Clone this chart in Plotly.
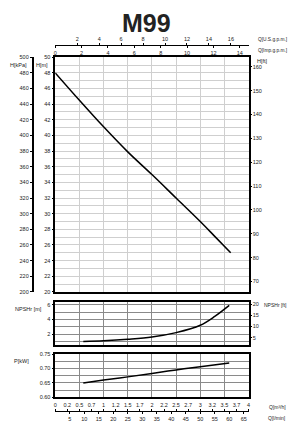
import plotly.graph_objects as go

W, H = 292, 429

# ---- data ----
q_h = [0, 0.5, 1.0, 1.5, 2.0, 2.5, 3.0, 3.3, 3.63]
head_m = [48.0, 44.5, 41.1, 37.9, 35.0, 32.0, 29.0, 27.1, 25.0]

q_npsh = [0.58, 1.0, 1.5, 2.0, 2.5, 3.0, 3.3, 3.6]
npsh_m = [1.0, 1.1, 1.3, 1.6, 2.2, 3.2, 4.4, 5.9]

q_p = [0.58, 1.0, 1.5, 2.0, 2.5, 3.0, 3.6]
power_kw = [0.650, 0.660, 0.671, 0.683, 0.695, 0.706, 0.719]

q_m3h_ticks = [i * 0.25 for i in range(17)]
q_m3h_labels = ["0", "0.2", "0.5", "0.7", "1", "1.2", "1.5", "1.7", "2", "2.2",
                "2.5", "2.7", "3", "3.2", "3.5", "3.7", "4"]
q_lmin_ticks = list(range(5, 70, 5))
q_usgpm_ticks = list(range(2, 18, 2))
q_impgpm_ticks = list(range(0, 16, 2))
kpa_ticks = list(range(200, 520, 20))

Q_MAX = 4.0
H_RANGE = [20, 50]
NPSH_RANGE = [0.5, 6.4]
P_RANGE = [0.60, 0.75]
FT = 0.3048
US_GPM = 4.40287
IMP_GPM = 3.66615
LMIN = 1000 / 60

def px(x):
    return x / W

def py(y):
    return 1 - y / H

XD = [px(54), px(250)]
main_dom = [py(293), py(55)]
npsh_dom = [py(347), py(303)]
p_dom = [py(400), py(356)]

FONT = "Arial, Liberation Sans, sans-serif"
TF = dict(family=FONT, size=5.5, color="#222")

fig = go.Figure()

def curve(x, y, xa, ya, visible_line=True):
    fig.add_trace(go.Scatter(
        x=x, y=y, mode="lines",
        line=dict(color="black", width=1.5 if visible_line else 0, shape="spline"),
        opacity=1 if visible_line else 0,
        xaxis=xa, yaxis=ya, showlegend=False, hoverinfo="skip"))

# visible curves
curve(q_h, head_m, "x", "y")
curve(q_npsh, npsh_m, "x2", "y3")
curve(q_p, power_kw, "x3", "y5")
# same data in secondary units (invisible, only to carry the extra scales)
curve(q_h, [h / FT for h in head_m], "x", "y2", False)
curve(q_h, [h * 10 for h in head_m], "x", "y6", False)
curve([q * US_GPM for q in q_h], head_m, "x4", "y", False)
curve([q * IMP_GPM for q in q_h], head_m, "x5", "y", False)
curve(q_npsh, [n / FT for n in npsh_m], "x2", "y4", False)
curve(q_p, power_kw, "x6", "y5", False)
curve([q * LMIN for q in q_p], power_kw, "x7", "y5", False)

box = dict(showline=True, linecolor="black", linewidth=1.5, mirror=True, zeroline=False)
main_grid = "#cfcfcf"
low_grid = "#8a8a8a"

def free_x(overlay, pos, side, rng, **kw):
    d = dict(overlaying=overlay, anchor="free", position=pos, side=side, range=rng,
             ticks="outside", ticklen=2, tickcolor="black", tickfont=TF, showline=True,
             linecolor="black", linewidth=1.2, showgrid=False, zeroline=False, fixedrange=True)
    d.update(kw)
    return d

layout = dict(
    width=W, height=H, margin=dict(l=0, r=0, t=0, b=0),
    paper_bgcolor="white", plot_bgcolor="white", showlegend=False,
    font=dict(family=FONT, size=6, color="#222"),
    # main plot
    xaxis=dict(domain=XD, anchor="y", range=[0, Q_MAX], dtick=0.5, showgrid=True, gridcolor=main_grid,
               gridwidth=1, showticklabels=False, ticks="", **box),
    yaxis=dict(domain=main_dom, anchor="x", range=H_RANGE, dtick=2, tick0=20, showgrid=True,
               gridcolor=main_grid, gridwidth=1, ticks="outside", ticklen=2, tickcolor="black",
               tickfont=TF, minor=dict(dtick=1, showgrid=True, gridcolor=main_grid, gridwidth=1), **box),
    yaxis2=dict(overlaying="y", anchor="x", side="right", range=[H_RANGE[0] / FT, H_RANGE[1] / FT],
                dtick=10, tick0=0, showgrid=False, ticks="outside", ticklen=2, tickcolor="black",
                tickfont=TF, showline=False, zeroline=False),
    yaxis6=dict(overlaying="y", anchor="free", position=px(31), side="left",
                range=[H_RANGE[0] * 10, H_RANGE[1] * 10], tickvals=kpa_ticks, showgrid=False,
                ticks="outside", ticklen=2, tickcolor="black", tickfont=TF,
                showline=True, linecolor="black", linewidth=1.5, zeroline=False),
    # top Q axes
    xaxis4=free_x("x", py(43), "top", [0, Q_MAX * US_GPM], tickvals=q_usgpm_ticks),
    xaxis5=free_x("x", py(43), "bottom", [0, Q_MAX * IMP_GPM], tickvals=q_impgpm_ticks),
    # NPSH
    xaxis2=dict(domain=XD, anchor="y3", range=[0, Q_MAX], dtick=0.5, showgrid=True, gridcolor=low_grid,
                gridwidth=1, showticklabels=False, ticks="", **box),
    yaxis3=dict(domain=npsh_dom, anchor="x2", range=NPSH_RANGE, tickvals=[2, 4, 6], showgrid=False,
                ticks="outside", ticklen=2, tickcolor="black", tickfont=TF,
                minor=dict(tickvals=[1, 2, 3, 4, 5, 6], showgrid=True, gridcolor=low_grid, gridwidth=1), **box),
    yaxis4=dict(overlaying="y3", anchor="x2", side="right", range=[NPSH_RANGE[0] / FT, NPSH_RANGE[1] / FT],
                tickvals=[5, 10, 15, 20], showgrid=False, ticks="outside", ticklen=2, tickcolor="black",
                tickfont=TF, showline=False, zeroline=False),
    # Power
    xaxis3=dict(domain=XD, anchor="y5", range=[0, Q_MAX], dtick=0.5, showgrid=True, gridcolor=low_grid,
                gridwidth=1, showticklabels=False, ticks="", **box),
    yaxis5=dict(domain=p_dom, anchor="x3", range=P_RANGE, tickvals=[0.60, 0.65, 0.70, 0.75],
                tickformat=".2f", showgrid=True, gridcolor=low_grid, gridwidth=1,
                ticks="outside", ticklen=2, tickcolor="black", tickfont=TF,
                minor=dict(dtick=0.025, tick0=0.6, showgrid=True, gridcolor=low_grid, gridwidth=1), **box),
    # bottom Q axes
    xaxis6=free_x("x3", py(414), "top", [0, Q_MAX], tickvals=q_m3h_ticks, ticktext=q_m3h_labels),
    xaxis7=free_x("x3", py(414), "bottom", [0, Q_MAX * LMIN], tickvals=q_lmin_ticks),
)
fig.update_layout(**layout)

def ann(text, x, y, size=5.5, xanchor="center", bold=False):
    fig.add_annotation(text=f"<b>{text}</b>" if bold else text, x=px(x), y=py(y), xref="paper", yref="paper",
                       showarrow=False, xanchor=xanchor, yanchor="middle",
                       font=dict(family=FONT, size=size, color="#222"))

ann("M99", 146, 20, size=25, bold=True)
ann("H[kPa]", 17, 63)
ann("H[m]", 41, 63)
ann("H[ft]", 264, 59)
ann("Q[U.S.g.p.m.]", 291, 37, size=4.8, xanchor="right")
ann("Q[Imp.g.p.m.]", 291, 48, size=4.8, xanchor="right")
ann("NPSHr [m]", 27, 310)
ann("NPSHr [ft]", 291, 306, size=5, xanchor="right")
ann("P[kW]", 20, 363)
ann("Q[m³/h]", 290, 410, size=5, xanchor="right")
ann("Q[l/min]", 290, 421, size=5, xanchor="right")

fig.write_html("out.html")
